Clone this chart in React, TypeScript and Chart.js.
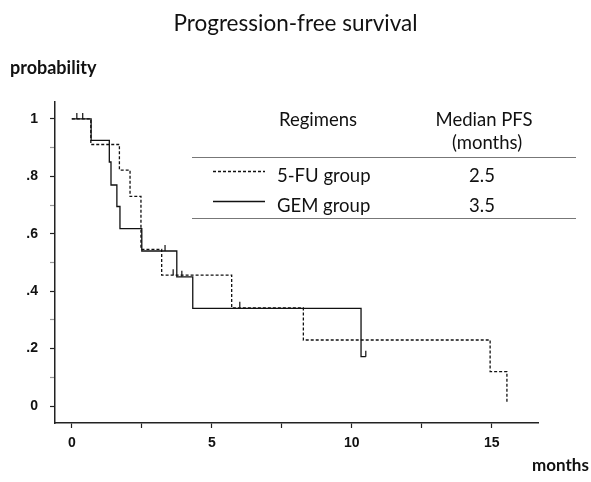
import { useEffect, useRef } from 'react';
import { Chart, registerables } from 'chart.js';

Chart.register(...registerables);

// ---- data ----
const fuTimes = [0, 0.68, 1.7, 2.08, 2.47, 3.21, 5.71, 8.27, 14.94, 15.54];
const fuSurv = [1, 0.911, 0.822, 0.73, 0.546, 0.456, 0.342, 0.23, 0.12, 0.01];
const gemTimes = [0, 0.69, 1.34, 1.4, 1.61, 1.72, 2.5, 3.75, 4.32, 10.33, 10.5];
const gemSurv = [1, 0.925, 0.85, 0.77, 0.695, 0.618, 0.54, 0.45, 0.34, 0.172, 0.172];

const fuCensorTimes = [0.18, 3.62, 6.0];
const fuCensorSurv = [1, 0.456, 0.342];
const gemCensorTimes = [0.39, 3.33, 3.93, 10.5];
const gemCensorSurv = [1, 0.54, 0.45, 0.172];

const xTickValues = [0, 2.5, 5, 7.5, 10, 12.5, 15];
const xTickLabels = ['0', '', '5', '', '10', '', '15'];
const yTickValues = [0, 0.1, 0.2, 0.3, 0.4, 0.5, 0.6, 0.7, 0.8, 0.9, 1];
const yTickLabels = ['0', '', '.2', '', '.4', '', '.6', '', '.8', '', '1'];

const groupNames = ['5-FU group', 'GEM group'];
const medianPFS = ['2.5', '3.5'];
const tableHeaders = ['Regimens', 'Median PFS', '(months)'];

const titleText = 'Progression-free survival';
const yAxisText = 'probability';
const xAxisText = 'months';

const INK = '#111';
const TEXT_FONT = 'Lato, "Open Sans", sans-serif';
const TICK_FONT = '"Liberation Sans", Arial, sans-serif';

const censorPlugin = {
  id: 'censorMarks',
  afterDatasetsDraw(chart: any) {
    const { ctx } = chart;
    const xs = chart.scales.x;
    const ys = chart.scales.y;
    const groups = [
      [fuCensorTimes, fuCensorSurv],
      [gemCensorTimes, gemCensorSurv],
    ];
    ctx.save();
    ctx.strokeStyle = INK;
    ctx.lineWidth = 1.2;
    ctx.beginPath();
    groups.forEach(([ts, ss]) => {
      ts.forEach((t, i) => {
        const px = xs.getPixelForValue(t);
        const py = ys.getPixelForValue(ss[i]);
        ctx.moveTo(px, py);
        ctx.lineTo(px, py - 6);
      });
    });
    ctx.stroke();
    ctx.restore();
  },
};

const textPlugin = {
  id: 'tableAndLabels',
  afterDraw(chart: any) {
    const { ctx, chartArea } = chart;
    ctx.save();
    ctx.fillStyle = INK;
    ctx.textBaseline = 'middle';

    // axis captions
    ctx.font = `bold 18px ${TEXT_FONT}`;
    ctx.textAlign = 'left';
    ctx.fillText(yAxisText, 10, 68);
    ctx.font = `bold 17px ${TEXT_FONT}`;
    ctx.fillText(xAxisText, chartArea.right - 6, 466);

    // table rules
    const left = 192;
    const right = 576;
    ctx.strokeStyle = '#777';
    ctx.lineWidth = 1;
    ctx.beginPath();
    ctx.moveTo(left, 157.5);
    ctx.lineTo(right, 157.5);
    ctx.moveTo(left, 218.5);
    ctx.lineTo(right, 218.5);
    ctx.stroke();

    // headers
    ctx.font = `18.5px ${TEXT_FONT}`;
    ctx.textAlign = 'center';
    ctx.fillText(tableHeaders[0], 318, 120);
    ctx.fillText(tableHeaders[1], 484, 120);
    ctx.fillText(tableHeaders[2], 487, 143);

    // rows
    const rowY = [176, 206];
    const sampleY = [171.5, 201.5];
    chart.data.datasets.forEach((ds: any, i: number) => {
      ctx.save();
      ctx.strokeStyle = ds.borderColor;
      ctx.lineWidth = ds.borderWidth;
      ctx.setLineDash(ds.borderDash || []);
      ctx.beginPath();
      ctx.moveTo(213, sampleY[i]);
      ctx.lineTo(265, sampleY[i]);
      ctx.stroke();
      ctx.restore();
      ctx.textAlign = 'left';
      ctx.fillText(groupNames[i], 277, rowY[i]);
      ctx.textAlign = 'center';
      ctx.fillText(medianPFS[i], 482, rowY[i]);
    });
    ctx.restore();
  },
};

export default function App() {
  const ref = useRef<HTMLCanvasElement | null>(null);

  useEffect(() => {
    if (!ref.current) return;
    const chart = new Chart(ref.current, {
      type: 'line',
      data: {
        datasets: [
          {
            label: groupNames[0],
            data: fuTimes.map((t, i) => ({ x: t, y: fuSurv[i] })),
            borderColor: INK,
            borderWidth: 1.3,
            borderDash: [3, 2],
            pointRadius: 0,
            stepped: 'before',
            fill: false,
          },
          {
            label: groupNames[1],
            data: gemTimes.map((t, i) => ({ x: t, y: gemSurv[i] })),
            borderColor: INK,
            borderWidth: 1.3,
            pointRadius: 0,
            stepped: 'before',
            fill: false,
          },
        ],
      },
      options: {
        animation: false,
        responsive: true,
        maintainAspectRatio: false,
        layout: { padding: 0 },
        plugins: {
          legend: { display: false },
          tooltip: { enabled: false },
          title: {
            display: true,
            text: titleText,
            color: INK,
            font: { family: TEXT_FONT, size: 22.5, weight: 'normal' },
            padding: { top: 10, bottom: 65 },
          },
        },
        scales: {
          x: {
            type: 'linear',
            min: -0.6,
            max: 16.65,
            afterBuildTicks: (s: any) => {
              s.ticks = xTickValues.map((v) => ({ value: v }));
            },
            afterFit: (s: any) => {
              s.height = 59;
            },
            ticks: {
              autoSkip: false,
              maxRotation: 0,
              padding: 7,
              color: INK,
              font: { family: TICK_FONT, size: 14, weight: 'bold' },
              callback: (_v: any, i: number) => xTickLabels[i],
            },
            grid: {
              display: true,
              drawOnChartArea: false,
              drawTicks: true,
              tickLength: 5,
              tickWidth: 1.2,
              tickColor: '#222',
            },
            border: { display: true, color: '#222', width: 1.5 },
          },
          y: {
            type: 'linear',
            position: 'left',
            min: -0.059,
            max: 1.059,
            afterBuildTicks: (s: any) => {
              s.ticks = yTickValues.map((v) => ({ value: v }));
            },
            afterFit: (s: any) => {
              s.width = 55;
            },
            ticks: {
              autoSkip: false,
              padding: 12,
              color: INK,
              font: { family: TICK_FONT, size: 14, weight: 'bold' },
              callback: (_v: any, i: number) => yTickLabels[i],
            },
            grid: {
              display: true,
              drawOnChartArea: false,
              drawTicks: true,
              tickLength: 5,
              tickWidth: 1.2,
              tickColor: (c: any) => (yTickLabels[c.index] === '' ? '#999' : '#222'),
            },
            border: { display: true, color: '#222', width: 1.5 },
          },
          // empty right-hand spacer axis: keeps the plot's right edge where the reference has it
          yRight: {
            type: 'linear',
            position: 'right',
            min: 0,
            max: 1,
            afterFit: (s: any) => {
              s.width = 53;
            },
            ticks: { display: false },
            grid: { display: false, drawTicks: false },
            border: { display: false },
          },
        },
      },
      plugins: [censorPlugin, textPlugin],
    } as any);
    return () => chart.destroy();
  }, []);

  return (
    <div style={{ position: 'fixed', left: 0, top: 0, width: 591, height: 482, background: '#fff' }}>
      <canvas ref={ref} />
    </div>
  );
}
